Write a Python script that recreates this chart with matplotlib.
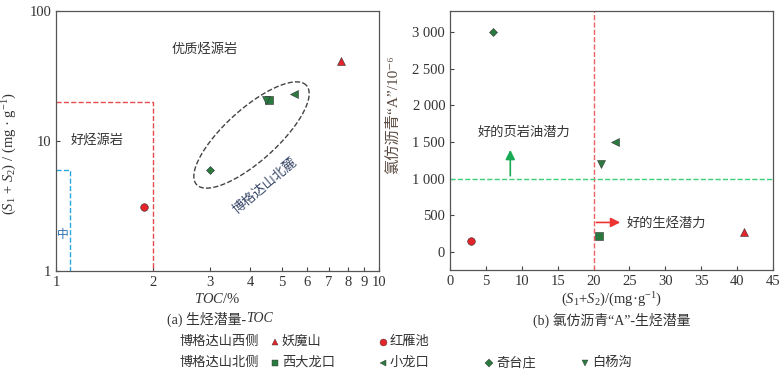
import numpy as np
import matplotlib
matplotlib.use('Agg')
import matplotlib.pyplot as plt
from matplotlib.ticker import FixedLocator, NullLocator, FuncFormatter

plt.rcParams['font.family'] = ['Liberation Serif', 'Noto Sans CJK SC', 'DejaVu Sans']
plt.rcParams['mathtext.fontset'] = 'custom'
plt.rcParams['mathtext.rm'] = 'Liberation Serif'
plt.rcParams['mathtext.it'] = 'Liberation Serif:italic'

# 样品数据
names = ['妖魔山', '红雁池', '西大龙口', '小龙口', '奇台庄', '白杨沟']
markers = ['^', 'o', 's', '<', 'D', 'v']
sizes = [6, 6, 6, 6, 5, 6]
colors = ['#e3242b', '#e3242b', '#2a7a40', '#2a7a40', '#2a7a40', '#2a7a40']
toc = [7.65, 1.87, 4.57, 5.45, 3.0, 4.47]
s1s2_a = [41.5, 3.12, 20.8, 23.0, 5.95, 20.8]
s1s2_b = [41.0, 2.9, 20.8, 23.0, 6.0, 21.0]
asphalt = [270, 140, 210, 1500, 3000, 1200]

W, H = 784, 376
fig = plt.figure(figsize=(W / 100, H / 100), dpi=100)
txt = '#333333'

# (a) 生烃潜量-TOC
ax1 = fig.add_axes([56 / W, 1 - 271 / H, 323 / W, 260 / H])
ax1.set_xscale('log')
ax1.set_yscale('log')
ax1.set_xlim(1, 10)
ax1.set_ylim(1, 100)
for i in range(len(names)):
    ax1.plot(toc[i], s1s2_a[i], marker=markers[i], color=colors[i], ms=sizes[i] - 0.5,
             mec='#333333', mew=0.4, ls='none', zorder=5)
ax1.plot([1, 2, 2], [20, 20, 1], ls='--', color='#e84a4a', lw=1)
ax1.plot([1, 1.107, 1.107], [6, 6, 1], ls='--', color='#29a8e0', lw=1)

# 椭圆（像素空间）
t = np.linspace(0, 2 * np.pi, 200)
a, b, th = 74, 26, np.deg2rad(42)
cx, cy = 195.5, 136
ex = cx + a * np.cos(t) * np.cos(th) - b * np.sin(t) * np.sin(th)
ey = cy + a * np.cos(t) * np.sin(th) + b * np.sin(t) * np.cos(th)
ax1.plot(ex / 323, ey / 260, transform=ax1.transAxes, ls='--', color='#444444', lw=1)
ax1.text(0.647, 0.327, '博格达山北麓', transform=ax1.transAxes, rotation=40,
         ha='center', va='center', fontsize=9.5, color='#3b4a6b')
ax1.text(0.46, 0.855, '优质烃源岩', transform=ax1.transAxes, ha='center', va='center',
         fontsize=9.5, color=txt)
ax1.text(0.126, 0.503, '好烃源岩', transform=ax1.transAxes, ha='center', va='center',
         fontsize=9.5, color=txt)
ax1.text(0.021, 0.137, '中', transform=ax1.transAxes, ha='center', va='center',
         fontsize=8.5, color='#2a6fb0')

ax1.xaxis.set_major_locator(FixedLocator([1, 2, 3, 4, 5, 6, 7, 8, 9, 10]))
ax1.xaxis.set_minor_locator(NullLocator())
ax1.xaxis.set_major_formatter(FuncFormatter(lambda v, p: '%d' % round(v)))
ax1.yaxis.set_major_locator(FixedLocator([1, 10, 100]))
ax1.yaxis.set_minor_locator(NullLocator())
ax1.yaxis.set_major_formatter(FuncFormatter(lambda v, p: '%d' % round(v)))
ax1.set_xlabel(r'$\it{TOC}$/%', fontsize=10.5, color=txt, labelpad=2)
ax1.set_ylabel(r'$(\it{S}_1$ + $\it{S}_2)$ / (mg · g$^{-1}$)', fontsize=10.5, color=txt)
ax1.yaxis.set_label_coords(-0.115, 0.45)

# (b) 氯仿沥青“A”-生烃潜量
ax2 = fig.add_axes([450 / W, 1 - 270 / H, 323 / W, 259 / H])
ax2.set_xlim(0, 45)
ax2.set_ylim(-250, 3290)
for i in range(len(names)):
    ax2.plot(s1s2_b[i], asphalt[i], marker=markers[i], color=colors[i], ms=sizes[i] - 0.5,
             mec='#333333', mew=0.4, ls='none', zorder=5)
ax2.axvline(20, ls='--', color='#f06060', lw=1)
ax2.axhline(1000, ls='--', color='#3ccf7a', lw=1)
ax2.annotate('', xy=(8.4, 1430), xytext=(8.4, 1000),
             arrowprops=dict(arrowstyle='-|>', color='#1aaa55', lw=1.2, mutation_scale=14))
ax2.annotate('', xy=(24.1, 400), xytext=(20, 400),
             arrowprops=dict(arrowstyle='-|>', color='#ee3333', lw=1.2, mutation_scale=14))
ax2.text(10.3, 1630, '好的页岩油潜力', ha='center', va='center', fontsize=9.5, color=txt)
ax2.text(24.6, 395, '好的生烃潜力', ha='left', va='center', fontsize=9.5, color=txt)
ax2.set_xticks(np.arange(0, 46, 5))
ax2.set_yticks(np.arange(0, 3001, 500))
ax2.yaxis.set_major_formatter(FuncFormatter(lambda v, p: '{:,}'.format(int(v)).replace(',', ' ')))
ax2.set_xlabel(r'$(\it{S}_1$+$\it{S}_2)$/(mg·g$^{-1}$)', fontsize=10.5, color=txt, labelpad=2)
ax2.set_ylabel('氯仿沥青“A”/10⁻⁶', fontsize=11, color='#5a4a40')
ax2.yaxis.set_label_coords(-0.155, 0.6)

for ax in (ax1, ax2):
    ax.tick_params(direction='in', labelsize=10.5, labelcolor=txt, color='#444444',
                   top=False, right=False, length=3)
    for s in ax.spines.values():
        s.set_color('#555555')
        s.set_linewidth(0.9)

# 分图标题
fig.text(246 / W, 1 - 319 / H, '(a) 生烃潜量-', ha='right', va='center',
         fontsize=10, color=txt)
fig.text(246 / W, 1 - 319 / H, 'TOC', ha='left', va='center', fontsize=10,
         color=txt, style='italic')
fig.text(612 / W, 1 - 320 / H, '(b) 氯仿沥青“A”-生烃潜量', ha='center', va='center',
         fontsize=10, color=txt)

# 图例
lg = fig.add_axes([0, 0, 1, 1])
lg.set_xlim(0, W)
lg.set_ylim(H, 0)
lg.axis('off')
lg.set_zorder(-1)
groups = ['博格达山西侧', '博格达山北侧']
rows = [342, 363]
mx = [275, 383, 275, 383, 489, 585]
my = [rows[0], rows[0], rows[1], rows[1], rows[1], rows[1]]
for gname, ry in zip(groups, rows):
    lg.text(180, ry, gname, ha='left', va='center', fontsize=9.5, color=txt)
for i in range(len(names)):
    lg.plot(mx[i], my[i], marker=markers[i], color=colors[i], ms=sizes[i] - 1,
            mec='#333333', mew=0.3)
    lg.text(mx[i] + 7, my[i], names[i], ha='left', va='center', fontsize=9.5, color=txt)

fig.savefig('out.png', dpi=100)
